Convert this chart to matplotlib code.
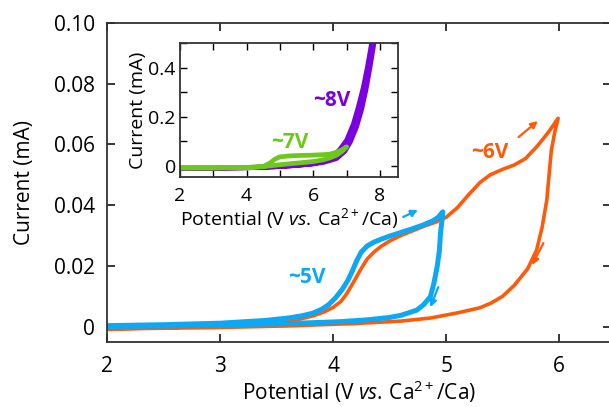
import matplotlib
matplotlib.use('Agg')
import matplotlib.pyplot as plt
from matplotlib.ticker import MultipleLocator, FuncFormatter

# font setup (Avenir-like look)
plt.rcParams['font.family'] = ['Open Sans', 'DejaVu Sans']
plt.rcParams['mathtext.fontset'] = 'custom'
plt.rcParams['mathtext.rm'] = 'Open Sans'
plt.rcParams['mathtext.it'] = 'Open Sans:italic'
plt.rcParams['mathtext.bf'] = 'Open Sans:bold'

# ---- main panel data (V, mA) ----
# ~6V scan
v6_fwd = [2.0, 2.5, 3.0, 3.4, 3.7, 3.82, 3.92, 4.0, 4.07, 4.12, 4.18, 4.24, 4.30,
          4.36, 4.42, 4.5, 4.6, 4.7, 4.8, 4.9, 5.0, 5.1, 5.2, 5.3, 5.39, 5.5, 5.6,
          5.7, 5.8, 5.9, 5.99]
i6_fwd = [-0.0008, -0.0004, 0.0002, 0.0010, 0.0024, 0.0035, 0.0048, 0.0063, 0.0083,
          0.0108, 0.0146, 0.0186, 0.0222, 0.0245, 0.0263, 0.0282, 0.0300, 0.0315,
          0.0330, 0.0343, 0.0360, 0.0392, 0.0435, 0.0475, 0.0500, 0.0518, 0.0532,
          0.0553, 0.0592, 0.0638, 0.0686]
v6_rev = [5.99, 5.96, 5.93, 5.91, 5.89, 5.85, 5.80, 5.72, 5.6, 5.5, 5.4, 5.3, 5.1,
          4.86, 4.6, 4.2, 3.6, 3.0, 2.0]
i6_rev = [0.0686, 0.0640, 0.0580, 0.0500, 0.0417, 0.0330, 0.0252, 0.0190, 0.0135,
          0.0100, 0.0078, 0.0062, 0.0045, 0.0028, 0.0018, 0.0010, 0.0002, -0.0003,
          -0.0008]

# ~5V scan
v5_fwd = [2.0, 2.5, 3.0, 3.4, 3.6, 3.72, 3.82, 3.9, 3.96, 4.02, 4.08, 4.13, 4.17,
          4.21, 4.25, 4.30, 4.36, 4.42, 4.5, 4.6, 4.7, 4.8, 4.88, 4.93, 4.97]
i5_fwd = [0.0003, 0.0006, 0.0011, 0.0020, 0.0028, 0.0035, 0.0044, 0.0057, 0.0072,
          0.0094, 0.0122, 0.0152, 0.0183, 0.0218, 0.0246, 0.0265, 0.0278, 0.0287,
          0.0298, 0.0310, 0.0322, 0.0335, 0.0348, 0.0360, 0.0378]
v5_rev = [4.97, 4.96, 4.95, 4.94, 4.92, 4.89, 4.86, 4.80, 4.74, 4.6, 4.5, 4.3, 4.06,
          3.62, 3.0, 2.5, 2.0]
i5_rev = [0.0378, 0.0340, 0.0310, 0.0250, 0.0197, 0.0140, 0.0098, 0.0072, 0.0054,
          0.0037, 0.0030, 0.0022, 0.0016, 0.0010, 0.0005, 0.0002, 0.0000]

# ---- inset data (V, mA) ----
v8_fwd = [2.0, 3.0, 4.0, 4.8, 5.5, 6.0, 6.3, 6.6, 6.8, 7.0, 7.2, 7.35, 7.5, 7.62,
          7.75, 7.8]
i8_fwd = [-0.010, -0.010, -0.008, -0.004, 0.002, 0.008, 0.018, 0.040, 0.068, 0.105,
          0.170, 0.240, 0.320, 0.400, 0.500, 0.560]
v8_rev = [7.88, 7.82, 7.7, 7.58, 7.45, 7.3, 7.12, 6.95, 6.7, 6.3, 5.8, 5.3, 4.5,
          3.0, 2.0]
i8_rev = [0.560, 0.500, 0.400, 0.310, 0.230, 0.160, 0.100, 0.060, 0.030, 0.014,
          0.006, 0.000, -0.006, -0.009, -0.010]

v7_fwd = [2.0, 3.0, 4.0, 4.5, 4.7, 4.85, 5.0, 5.3, 5.7, 6.0, 6.3, 6.5, 6.7, 6.85, 7.0]
i7_fwd = [-0.008, -0.008, -0.007, -0.002, 0.012, 0.028, 0.037, 0.041, 0.043, 0.044,
          0.046, 0.048, 0.056, 0.065, 0.078]
v7_rev = [7.0, 6.85, 6.7, 6.5, 6.3, 6.0, 5.7, 5.3, 5.0, 4.5, 4.0, 3.0, 2.0]
i7_rev = [0.078, 0.058, 0.044, 0.033, 0.025, 0.018, 0.014, 0.009, 0.005, -0.003,
          -0.006, -0.008, -0.008]

orange = '#ff5a0a'
blue = '#0aa8f5'
purple = '#7a00e0'
green = '#6cc81a'
fs = 15
fs_in = 14
xlab = r'Potential (V $\mathit{vs.}\,$Ca$^{2+}$/Ca)'

fig = plt.figure(figsize=(6.09, 4.07), dpi=100)

# main axes (right spine just off the image, as in the reference)
ax = fig.add_axes([0.1757, 0.1604, 0.828, 0.7831])
ax.plot(v6_fwd + v6_rev, i6_fwd + i6_rev, color=orange, lw=2.6,
        solid_joinstyle='round', solid_capstyle='round')
ax.plot(v5_fwd + v5_rev, i5_fwd + i5_rev, color=blue, lw=3.6,
        solid_joinstyle='round', solid_capstyle='round')

ax.set_xlim(2, 6.46)
ax.set_ylim(-0.005, 0.1)
ax.xaxis.set_major_locator(MultipleLocator(1))
ax.yaxis.set_major_locator(MultipleLocator(0.02))
ax.yaxis.set_major_formatter(FuncFormatter(lambda y, p: '0' if abs(y) < 1e-9 else '%.2f' % y))
ax.tick_params(direction='in', top=True, right=True, length=6, width=1.1,
               labelsize=fs)
ax.tick_params(axis='y', pad=8.5)
ax.tick_params(axis='x', pad=10)
for s in ax.spines.values():
    s.set_linewidth(1.3)
    s.set_color('#333333')
ax.set_xlabel(xlab, fontsize=fs, labelpad=1)
ax.set_ylabel('Current (mA)', fontsize=fs, labelpad=14)

# labels and arrows
ax.text(3.77, 0.0163, '~5V', color=blue, fontsize=fs, fontweight='bold',
        ha='center', va='center')
ax.text(5.39, 0.0575, '~6V', color=orange, fontsize=fs, fontweight='bold',
        ha='center', va='center')
arr = dict(arrowstyle='-|>', lw=1.6, mutation_scale=10, shrinkA=0, shrinkB=0)
ax.annotate('', xy=(5.81, 0.0677), xytext=(5.64, 0.0624), arrowprops=dict(arr, color=orange))
ax.annotate('', xy=(5.76, 0.0203), xytext=(5.86, 0.0275), arrowprops=dict(arr, color=orange))
ax.annotate('', xy=(4.75, 0.0384), xytext=(4.62, 0.0361), arrowprops=dict(arr, color=blue))
ax.annotate('', xy=(4.86, 0.0064), xytext=(4.93, 0.0130), arrowprops=dict(arr, color=blue))

# inset
ins = fig.add_axes([0.2956, 0.5651, 0.3579, 0.3292])
ins.set_facecolor('white')
ins.plot(v8_fwd + v8_rev, i8_fwd + i8_rev, color=purple, lw=3.4,
         solid_joinstyle='round', solid_capstyle='round')
ins.plot(v7_fwd + v7_rev, i7_fwd + i7_rev, color=green, lw=3.4,
         solid_joinstyle='round', solid_capstyle='round')
ins.set_xlim(2, 8.54)
ins.set_ylim(-0.045, 0.5)
ins.xaxis.set_major_locator(MultipleLocator(2))
ins.xaxis.set_minor_locator(MultipleLocator(1))
ins.yaxis.set_major_locator(MultipleLocator(0.2))
ins.yaxis.set_minor_locator(MultipleLocator(0.1))
ins.yaxis.set_major_formatter(FuncFormatter(lambda y, p: '0' if abs(y) < 1e-9 else '%.1f' % y))
ins.tick_params(which='both', direction='in', top=True, right=True, width=1.0,
                length=5, labelsize=fs_in)
ins.tick_params(axis='y', pad=3)
ins.tick_params(axis='x', pad=7)
for s in ins.spines.values():
    s.set_linewidth(1.3)
    s.set_color('#333333')
ins.set_xlabel(xlab, fontsize=fs_in, labelpad=1)
ins.set_ylabel('Current (mA)', fontsize=fs_in, labelpad=1)
ins.text(6.56, 0.266, '~8V', color=purple, fontsize=fs, fontweight='bold',
         ha='center', va='center')
ins.text(5.3, 0.097, '~7V', color=green, fontsize=fs, fontweight='bold',
         ha='center', va='center')

fig.savefig('out.png', dpi=100)
